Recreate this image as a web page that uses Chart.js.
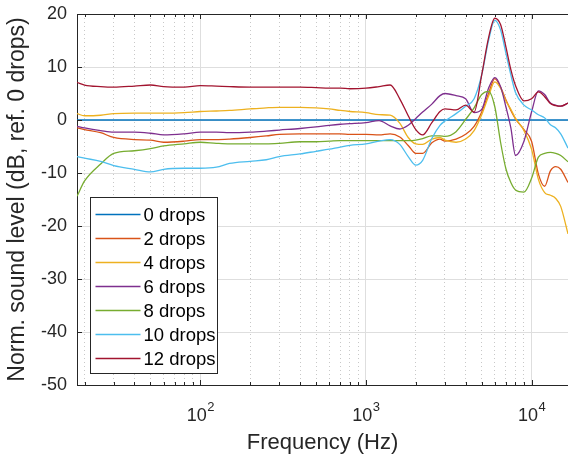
<!DOCTYPE html>
<html>
<head>
<meta charset="utf-8">
<script src="https://cdn.jsdelivr.net/npm/chart.js@4.4.0/dist/chart.umd.min.js"></script>
<style>
  html, body { margin: 0; padding: 0; background: #fff; overflow: hidden; }
  canvas { display: block; }
</style>
</head>
<body>
<canvas id="chart" width="568" height="457"></canvas>
<script>
// frequency points (Hz) shared by all curves
const freqs = [18, 20, 25, 30, 40, 50, 60, 80,
  100, 125, 150, 200, 250, 300, 400, 500, 600, 700, 800,
  1000, 1200, 1400, 1600, 1800, 2000, 2200, 2500, 2800, 3000, 3500, 4000, 4500, 5000, 5500, 6000, 6500, 7000, 7500, 8000, 9000,
  10000, 11000, 12000, 13000, 14000, 15000, 16600];

// normalised level (dB) per number of drops
const drops0 = [0, 0, 0, 0, 0, 0, 0, 0,
  0, 0, 0, 0, 0, 0, 0, 0, 0, 0, 0,
  0, 0, 0, 0, 0, 0, 0, 0, 0, 0, 0, 0, 0, 0, 0, 0, 0, 0, 0, 0, 0,
  0, 0, 0, 0, 0, 0, 0];
const drops2 = [-1.5, -1.8, -2.4, -3.3, -3.7, -3.8, -4.2, -4.0,
  -3.7, -3.7, -3.6, -3.3, -3.0, -2.7, -2.6, -2.6, -2.6, -2.6, -2.7,
  -2.7, -2.8, -2.6, -3.2, -4.8, -6.3, -6.3, -4.3, -3.6, -4.0, -3.6, -2.7, -1.2, 1.5, 5.0, 7.8, 6.2, 3.8, 1.8, 0.2, -1.8,
  -4.0, -10.2, -12.5, -9.6, -8.8, -9.3, -11.8];
const drops4 = [1.2, 0.8, 0.9, 1.2, 1.3, 1.3, 1.3, 1.4,
  1.6, 1.7, 1.8, 2.1, 2.3, 2.4, 2.4, 2.3, 2.1, 1.8, 1.6,
  1.4, 1.0, 0.9, -0.6, -3.3, -4.5, -4.6, -3.6, -3.3, -3.8, -4.2, -3.6, -2.0, 1.0, 4.5, 7.2, 6.0, 3.6, 2.0, 0.3, -2.0,
  -5.5, -11.2, -13.7, -14.2, -14.8, -16.3, -21.5];
const drops6 = [-1.2, -1.5, -2.0, -2.3, -2.3, -2.5, -2.8, -2.6,
  -2.3, -2.3, -2.4, -2.3, -2.1, -1.9, -1.6, -1.3, -1.0, -0.8, -0.7,
  -0.5, -0.1, -1.1, -1.7, -1.0, 0.3, 1.5, 3.0, 4.6, 5.0, 4.6, 4.0, 1.4, 2.0, 6.0, 8.0, 6.3, 2.5, -1.5, -6.7, -4.0,
  1.5, 5.5, 4.8, 3.2, 2.8, 2.6, 3.2];
const drops8 = [-14.4, -11.5, -8.3, -6.3, -5.8, -5.4, -4.9, -4.5,
  -4.2, -4.4, -4.5, -4.5, -4.5, -4.4, -4.1, -4.1, -4.0, -3.9, -3.9,
  -3.9, -3.9, -3.9, -3.9, -3.9, -3.8, -3.5, -3.0, -3.0, -3.1, -2.2, 0.1, 2.3, 4.8, 5.4, 2.5, -4.2, -9.2, -11.8, -13.2, -13.6,
  -11.0, -7.0, -6.3, -6.1, -6.3, -6.7, -7.9];
const drops10 = [-6.9, -7.2, -7.8, -8.6, -9.3, -9.8, -9.3, -9.1,
  -9.1, -8.9, -8.2, -7.8, -7.5, -6.9, -6.4, -5.9, -5.5, -5.1, -4.8,
  -4.5, -4.0, -3.7, -4.6, -6.9, -8.5, -7.6, -3.5, -1.0, -0.2, 1.2, 2.6, 4.0, 8.5, 15.0, 18.8, 17.0, 12.6, 8.5, 5.2, 2.8,
  1.9, 1.0, 0.4, -0.9, -1.5, -2.6, -5.3];
const drops12 = [7.1, 6.6, 6.3, 6.2, 6.4, 6.6, 6.3, 6.2,
  6.5, 6.4, 6.3, 6.2, 6.2, 6.2, 6.2, 6.1, 6.0, 6.0, 5.9,
  6.0, 6.3, 6.6, 4.0, 0.8, -1.8, -2.8, -0.5, 1.6, 2.1, 1.9, 2.8, 1.5, 8.5, 15.5, 19.2, 18.0, 13.8, 9.5, 6.5, 3.6,
  4.0, 5.3, 4.4, 3.1, 2.7, 2.6, 3.2];

const seriesLabels = ['0 drops', '2 drops', '4 drops', '6 drops', '8 drops', '10 drops', '12 drops'];
const seriesValues = [drops0, drops2, drops4, drops6, drops8, drops10, drops12];
const yTicks = [-50, -40, -30, -20, -10, 0, 10, 20];
const xMajor = [100, 1000, 10000];

// matlab default line colours
const colors = ['#0072BD', '#D95319', '#EDB120', '#7E2F8E', '#77AC30', '#4DBEEE', '#A2142F'];
const axisColor = '#262626';
const FONT = '"Liberation Sans", Arial, Helvetica, sans-serif';

// every 1..9 x 10^k inside the range
const xTicks = [];
[10, 100, 1000, 10000].forEach(d => {
  for (let m = 1; m <= 9; m++) {
    const v = m * d;
    if (v >= 18 && v <= 16600) xTicks.push(v);
  }
});
const isMajor = v => xMajor.includes(v);

const datasets = seriesLabels.map((label, i) => ({
  label: label,
  data: freqs.map((f, k) => ({ x: f, y: seriesValues[i][k] })),
  borderColor: colors[i],
  backgroundColor: colors[i],
  borderWidth: 1.3,
  pointRadius: 0,
  fill: false,
  cubicInterpolationMode: 'monotone',
  order: seriesLabels.length - i   // last series drawn on top, like matlab
}));

// inward ticks, top box line, 10^n labels and the legend box
const decorations = {
  id: 'decorations',
  afterDraw(chart) {
    const ctx = chart.ctx;
    const ca = chart.chartArea;
    const xs = chart.scales.x;
    const ys = chart.scales.y;
    ctx.save();
    ctx.strokeStyle = axisColor;
    ctx.lineWidth = 1;

    // top line of the box
    ctx.beginPath();
    ctx.moveTo(ca.left, ca.top + 0.5);
    ctx.lineTo(ca.right, ca.top + 0.5);
    ctx.stroke();

    // x ticks, bottom and top
    xTicks.forEach(v => {
      const px = Math.round(xs.getPixelForValue(v)) + 0.5;
      const len = isMajor(v) ? 5 : 3;
      ctx.beginPath();
      ctx.moveTo(px, ca.bottom);
      ctx.lineTo(px, ca.bottom - len);
      ctx.moveTo(px, ca.top);
      ctx.lineTo(px, ca.top + len);
      ctx.stroke();
    });
    // y ticks
    yTicks.forEach(v => {
      const py = Math.round(ys.getPixelForValue(v)) + 0.5;
      ctx.beginPath();
      ctx.moveTo(ca.left, py);
      ctx.lineTo(ca.left + 5, py);
      ctx.stroke();
    });

    // 10^n tick labels
    ctx.fillStyle = axisColor;
    ctx.textAlign = 'left';
    ctx.textBaseline = 'alphabetic';
    xMajor.forEach(v => {
      const px = xs.getPixelForValue(v);
      const exp = String(Math.round(Math.log10(v)));
      ctx.font = '18px ' + FONT;
      const w1 = ctx.measureText('10').width;
      ctx.font = '13px ' + FONT;
      const w2 = ctx.measureText(exp).width;
      const start = px - (w1 + w2) / 2;
      ctx.font = '18px ' + FONT;
      ctx.fillText('10', start, ca.bottom + 36);
      ctx.font = '13px ' + FONT;
      ctx.fillText(exp, start + w1 + 0.5, ca.bottom + 26);
    });

    // legend, lower left inside the axes
    const boxW = 127, rowH = 24;
    const boxH = seriesLabels.length * rowH + 8;
    const bx = Math.round(ca.left + 13) + 0.5;
    const by = Math.round(ca.bottom - 12 - boxH) + 0.5;
    ctx.fillStyle = '#ffffff';
    ctx.fillRect(bx, by, boxW, boxH);
    ctx.strokeStyle = axisColor;
    ctx.lineWidth = 1;
    ctx.strokeRect(bx, by, boxW, boxH);
    ctx.font = '18.5px ' + FONT;
    ctx.textBaseline = 'middle';
    seriesLabels.forEach((label, i) => {
      const cy = by + 17 + i * rowH;
      ctx.strokeStyle = colors[i];
      ctx.lineWidth = 1.3;
      ctx.beginPath();
      ctx.moveTo(bx + 5, cy);
      ctx.lineTo(bx + 50, cy);
      ctx.stroke();
      ctx.fillStyle = '#000000';
      ctx.fillText(label, bx + 53, cy + 1);
    });
    ctx.restore();
  }
};

new Chart(document.getElementById('chart'), {
  type: 'line',
  data: { datasets: datasets },
  options: {
    responsive: false,
    animation: false,
    devicePixelRatio: 1,
    layout: { padding: { left: 0, right: 0, top: 14, bottom: 0 } },
    plugins: {
      legend: { display: false },
      tooltip: { enabled: false }
    },
    scales: {
      x: {
        type: 'logarithmic',
        min: 18,
        max: 16600,
        afterBuildTicks: scale => {
          scale.ticks = xTicks.map(v => ({ value: v, major: isMajor(v) }));
        },
        afterFit: scale => {
          scale.height = 72;
          scale.paddingLeft = 0;
          scale.paddingRight = 0;
        },
        ticks: { autoSkip: false, callback: () => '', maxRotation: 0 },
        grid: {
          drawTicks: false,
          lineWidth: 1,
          color: c => (c.tick && isMajor(c.tick.value)) ? '#dedede' : '#c8c8c8'
        },
        border: {
          display: true,
          color: axisColor,
          width: 1,
          dash: c => (c.tick && !isMajor(c.tick.value)) ? [1, 3] : []
        },
        title: {
          display: true,
          text: 'Frequency (Hz)',
          color: axisColor,
          font: { family: FONT, size: 22 },
          padding: { top: 0, bottom: 1 }
        }
      },
      y: {
        min: -50,
        max: 20,
        afterBuildTicks: scale => {
          scale.ticks = yTicks.map(v => ({ value: v }));
        },
        afterFit: scale => {
          scale.width = 77;
          // keep the plot top/bottom where they are, labels may overhang
          scale.paddingTop = 0;
          scale.paddingBottom = 0;
        },
        ticks: {
          color: axisColor,
          padding: 10,
          font: { family: FONT, size: 18 }
        },
        grid: { drawTicks: false, lineWidth: 1, color: '#dedede' },
        border: { display: true, color: axisColor, width: 1 },
        title: {
          display: true,
          text: 'Norm. sound level (dB, ref. 0 drops)',
          color: axisColor,
          font: { family: FONT, size: 23 },
          padding: { top: 4, bottom: 0 }
        }
      }
    }
  },
  plugins: [decorations]
});
</script>
</body>
</html>
